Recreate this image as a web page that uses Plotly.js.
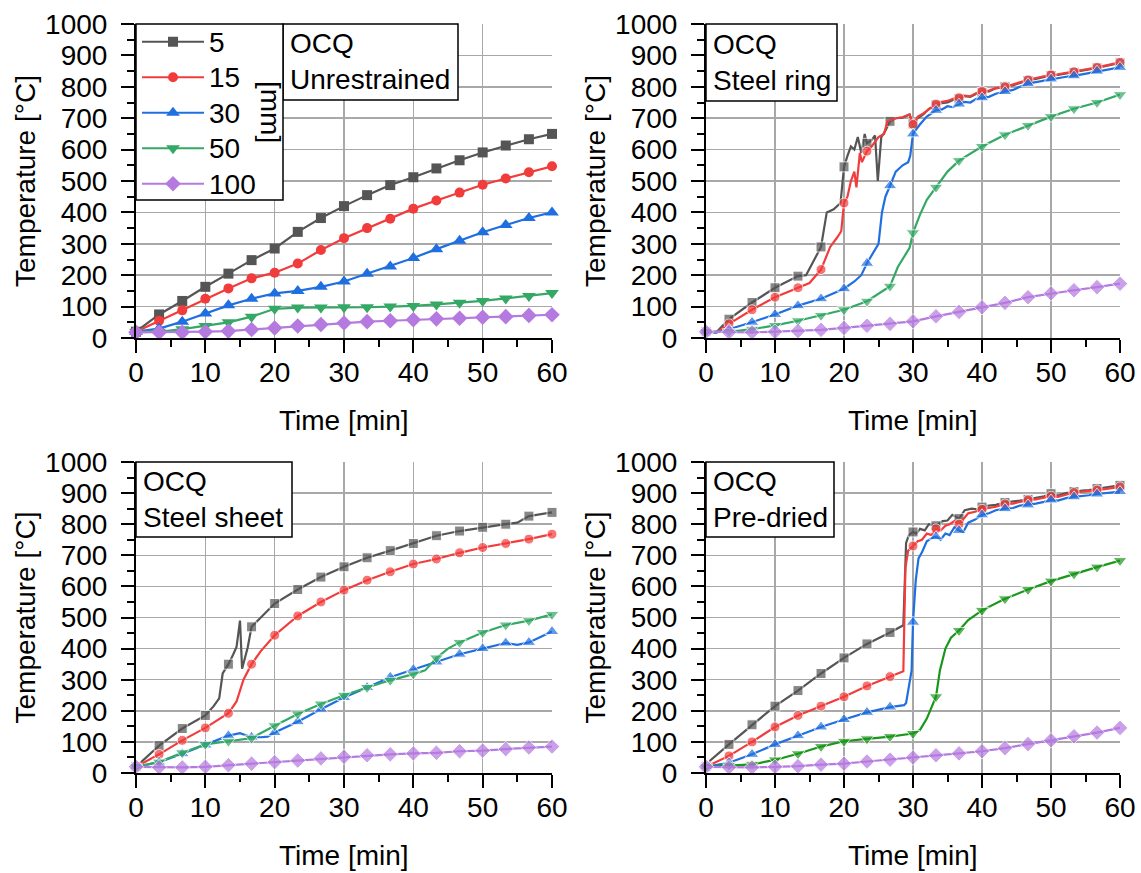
<!DOCTYPE html>
<html><head><meta charset="utf-8">
<script src="https://cdn.plot.ly/plotly-3.0.1.min.js"></script>
<style>html,body{margin:0;padding:0;background:#fff}#chart{width:1141px;height:873px}</style>
</head><body><div id="chart"></div>
<script>
// ---------- DATA ----------
const seriesNames = ['5', '15', '30', '50', '100'];
const unitLabel = '[mm]';
const panelNotes = ['OCQ<br>Unrestrained', 'OCQ<br>Steel ring', 'OCQ<br>Steel sheet', 'OCQ<br>Pre-dried'];
const xTitle = 'Time [min]';
const yTitle = 'Temperature [°C]';

// marker times (min)
const tMark = [0,3.33,6.67,10,13.33,16.67,20,23.33,26.67,30,33.33,36.67,40,43.33,46.67,50,53.33,56.67,60];

// Panel 1: Unrestrained
const unr5   = [20,75,118,163,205,248,285,338,382,420,455,487,512,540,566,591,613,633,650];
const unr15  = [20,55,88,125,158,190,208,237,280,318,350,380,412,438,463,488,508,528,547];
const unr30  = [20,30,52,78,104,125,142,150,163,180,205,228,255,283,310,337,360,382,400];
const unr50  = [20,20,28,38,50,68,93,97,97,98,98,100,102,107,112,118,126,134,143];
const unr100 = [18,18,18,20,22,27,32,38,43,48,52,55,58,61,63,66,68,72,74];

// Panel 2: Steel ring
const ring5t = [0,1.5,3.33,6.67,10,13.33,14.5,16.67,17.5,18.5,19.5,20,20.5,21,21.5,22,22.5,23,23.33,24,24.5,24.9,25.4,26,26.67,27.5,28.5,29.5,30,30.7,31.5,32.3,33.33,34.2,35,35.8,36.67,37.5,38.3,39.2,40,41,42,43.33,44.5,45.5,46.67,47.8,49,50,51,52.2,53.33,54.5,55.5,56.67,57.8,59,60];
const ring5v = [20,18,60,113,160,197,200,290,400,410,430,545,580,610,600,640,590,650,620,630,645,500,640,660,690,700,702,712,682,700,712,730,742,748,750,758,762,770,768,778,782,785,795,800,805,812,820,825,832,836,838,842,846,850,855,860,865,870,876];
const ring15t = [0,1.5,3.33,6.67,10,13.33,15,16.67,18,19,19.6,20,20.5,21,21.5,21.8,22.3,22.6,23.33,24,25,25.8,26.3,27.5,28.5,29.5,30,30.7,31.5,32.3,33.33,34.2,35,35.8,36.67,37.5,38.3,39.2,40,41,42,43.33,44.5,45.5,46.67,47.8,49,50,51,52.2,53.33,54.5,55.5,56.67,57.8,59,60];
const ring15v = [20,18,45,90,130,160,175,218,290,320,340,430,450,500,530,480,590,560,595,610,640,650,690,700,703,712,680,705,715,728,745,752,755,762,765,772,770,780,786,788,796,800,808,815,822,828,834,838,840,844,848,853,857,862,867,872,878];
const ring30t = [0,1.5,3.33,6.67,10,13.33,16.67,20,21.5,22.5,23.33,24.5,25,25.5,26,26.67,27.5,28.5,29.3,29.6,30,30.5,31,32,33.33,34.2,35,35.8,36.67,37.5,38.3,39.2,40,41,42,43.33,44.5,45.5,46.67,47.8,49,50,51,52.2,53.33,54.5,55.5,56.67,57.8,59,60];
const ring30v = [20,18,28,50,75,103,125,157,180,200,238,280,300,400,450,485,530,550,560,580,650,665,680,705,725,728,738,735,745,752,750,762,765,768,778,785,790,800,810,815,820,825,828,832,835,840,845,850,855,860,862];
const ring50t = [0,3.33,6.67,10,13.33,16.67,20,23.33,26.67,27.8,29.5,30,31,32,33.33,35,36.67,40,43.33,46.67,50,53.33,56.67,60];
const ring50v = [20,20,28,40,55,72,90,117,165,226,287,335,392,440,480,530,565,610,647,677,705,730,750,775];
const ring100 = [20,18,18,20,22,26,32,39,45,53,69,83,98,112,130,142,152,162,173];

// Panel 3: Steel sheet
const sheet5t = [0,3.33,6.67,10,11.2,12,12.5,13.33,14,14.5,15,15.3,16.1,16.67,18,20,23.33,26.67,30,33.33,36.67,40,43.33,46.67,50,53.33,55,56.67,60];
const sheet5v = [20,88,143,185,215,240,320,350,380,405,490,335,403,470,500,545,590,630,663,692,715,738,763,778,790,800,805,826,838];
const sheet15t = [0,3.33,6.67,10,13.33,14.5,15.5,16.67,18,20,23.33,26.67,30,33.33,36.67,40,43.33,46.67,50,53.33,56.67,60];
const sheet15v = [20,60,105,145,192,230,300,350,392,443,505,550,588,620,647,672,688,708,725,738,752,768];
const sheet30t = [0,3.33,6.67,10,13.33,15,16.67,18,19,20,23.33,26.67,30,33.33,36.67,40,43.33,46.67,50,53.33,55,56.67,60];
const sheet30v = [20,35,62,90,120,128,115,115,117,130,165,205,243,275,308,333,357,382,400,418,412,420,455];
const sheet50t = [0,3.33,6.67,10,13.33,16.67,20,23.33,26.67,30,33.33,36.67,40,41.7,43.33,45,46.67,50,53.33,56.67,60];
const sheet50v = [20,35,65,92,102,112,152,190,222,250,275,298,318,330,370,400,420,452,476,490,510];
const sheet100 = [20,18,18,20,25,30,35,40,47,52,57,60,63,65,70,72,77,82,85];

// Panel 4: Pre-dried
const dry5t = [0,0.7,3.33,6.67,10,13.33,16.67,20,23.33,26.67,28.6,29.0,29.4,30,30.5,31,31.7,32.3,33.33,34.3,35,35.7,36.67,37.5,38.5,39.3,40,41,42,43.33,44.5,45.5,46.67,47.8,49,50,51,52.2,53.33,54.5,55.5,56.67,57.8,59,60];
const dry5v = [20,42,92,155,215,265,320,370,415,452,475,740,765,775,770,785,780,800,795,810,812,830,818,845,850,848,855,860,862,870,872,876,880,885,890,898,892,900,905,908,910,915,918,922,925];
const dry15t = [0,3.33,6.67,10,13.33,16.67,20,23.33,26.67,28.6,28.9,29.3,30,30.7,31.3,32,32.7,33.33,34,34.7,35.3,36,36.67,37.3,38,39,40,41,42,43.33,44.5,45.5,46.67,47.8,49,50,51,52.2,53.33,54.5,55.5,56.67,57.8,59,60];
const dry15v = [20,55,100,148,185,215,245,280,310,327,660,715,730,745,750,770,765,785,780,795,800,810,800,815,835,840,848,852,856,865,866,872,878,880,886,890,888,896,902,905,907,910,913,917,920];
const dry30t = [0,3.33,6.67,10,13.33,16.67,20,23.33,26.67,28.7,29.0,29.5,29.8,30,30.4,30.8,31.3,32,32.7,33.33,34,34.7,35.3,36,36.67,37.3,38,39,40,41,42,43.33,44.5,45.5,46.67,47.8,49,50,51,52.2,53.33,54.5,55.5,56.67,57.8,59,60];
const dry30v = [20,33,60,92,120,148,172,195,212,218,225,300,330,485,620,690,710,745,755,760,750,770,765,790,780,775,805,815,830,835,845,850,852,860,862,866,872,878,876,884,888,890,893,897,900,903,905];
const dry50t = [0,3.33,6.67,10,13.33,16.67,20,23.33,26.67,30,31,32,32.8,33.33,33.9,34.7,35.5,36.67,38,40,43.33,46.67,50,53.33,56.67,60];
const dry50v = [20,25,28,42,62,85,102,110,117,127,138,175,215,245,330,400,435,458,492,523,560,590,617,640,662,683];
const dry100 = [20,18,18,20,22,27,30,37,43,50,57,63,70,80,93,105,118,130,145];

// ---------- STYLE ----------
const W = 1141, H = 873;
const fx = v => v / W;
const fy = v => 1 - v / H;
const colors = ['#555555', '#f23c3c', '#1f6fe0', '#34a865', '#b57ae0'];
const greenDry = '#1a961a';
const symbols = ['square', 'circle', 'triangle-up', 'triangle-down', 'diamond'];
const msizes = [10, 10, 12, 12, 12];
const FONT = 'Liberation Sans, Arial, sans-serif';
const FS = 28;

const panels = [
  {x0:136, x1:552, y0:24, y1:338, box:[283,24,458,100]},
  {x0:706, x1:1120, y0:24, y1:338, box:[706,24,837,101]},
  {x0:136, x1:552, y0:462, y1:773, box:[136,462,292,537]},
  {x0:706, x1:1120, y0:462, y1:773, box:[706,462,834,537]}
];

const panelData = [
  [[tMark,unr5],[tMark,unr15],[tMark,unr30],[tMark,unr50],[tMark,unr100]],
  [[ring5t,ring5v],[ring15t,ring15v],[ring30t,ring30v],[ring50t,ring50v],[tMark,ring100]],
  [[sheet5t,sheet5v],[sheet15t,sheet15v],[sheet30t,sheet30v],[sheet50t,sheet50v],[tMark,sheet100]],
  [[dry5t,dry5v],[dry15t,dry15v],[dry30t,dry30v],[dry50t,dry50v],[tMark,dry100]]
];

const isMark = t => Math.abs(t * 0.3 - Math.round(t * 0.3)) < 0.005;

const traces = [];
panelData.forEach((ser, p) => {
  const sfx = p === 0 ? '' : String(p + 1);
  ser.forEach((d, k) => {
    const col = (p === 3 && k === 3) ? greenDry : colors[k];
    const sizes = d[0].map(t => isMark(t) ? msizes[k] : 0);
    traces.push({
      type: 'scatter', mode: 'lines+markers',
      x: d[0], y: d[1],
      xaxis: 'x' + sfx, yaxis: 'y' + sfx,
      name: '<span style="font-size:28px">' + seriesNames[k] + '</span>',
      showlegend: p === 0,
      cliponaxis: false,
      line: {color: col, width: 2.2},
      marker: {color: col, symbol: symbols[k], size: p === 0 ? msizes[k] : sizes}
    });
  });
});

const layout = {
  width: W, height: H,
  margin: {l:0, r:0, t:0, b:0},
  paper_bgcolor: '#fff', plot_bgcolor: '#fff',
  font: {family: FONT, size: FS, color: '#000'},
  showlegend: true,
  legend: {x: fx(137), y: fy(19), xanchor: 'left', yanchor: 'top',
           bgcolor: 'rgba(0,0,0,0)', borderwidth: 0, font: {size: 25, family: FONT},
           itemwidth: 62, tracegroupgap: 0},
  shapes: [], annotations: []
};

panels.forEach((p, i) => {
  const sfx = i === 0 ? '' : String(i + 1);
  const common = {
    ticks: 'outside', ticklen: 13, tickwidth: 2, tickcolor: '#000',
    showline: true, linecolor: '#000', linewidth: 2,
    showgrid: true, gridcolor: '#a8a8a8', gridwidth: 1.5, zeroline: false,
    tickfont: {size: FS, family: FONT, color: '#000'}, fixedrange: true
  };
  layout['xaxis' + sfx] = Object.assign({}, common, {
    domain: [fx(p.x0), fx(p.x1)], anchor: 'y' + sfx, range: [0, 60],
    tick0: 0, dtick: 10, ticklabelstandoff: -5,
    minor: {dtick: 5, ticks: 'outside', ticklen: 7, tickwidth: 2, tickcolor: '#000', showgrid: false}
  });
  layout['yaxis' + sfx] = Object.assign({}, common, {
    domain: [fy(p.y1), fy(p.y0)], anchor: 'x' + sfx, range: [0, 1000],
    tick0: 0, dtick: 100, ticklabelstandoff: 8,
    minor: {dtick: 50, ticks: 'outside', ticklen: 7, tickwidth: 2, tickcolor: '#000', showgrid: false}
  });
  // note box
  const b = p.box;
  layout.shapes.push({type:'rect', xref:'paper', yref:'paper', layer:'above',
    x0: fx(b[0]), x1: fx(b[2]), y0: fy(b[3]), y1: fy(b[1]),
    line: {color:'#000', width:1.5}, fillcolor:'#fff'});
  layout.annotations.push({xref:'paper', yref:'paper', x: fx(b[0] + 5), y: fy((b[1] + b[3]) / 2),
    xanchor:'left', yanchor:'middle', align:'left', showarrow:false,
    text: panelNotes[i], font:{size: FS, family: FONT, color:'#000'}});
  // axis titles
  const cx = (p.x0 + p.x1) / 2, cy = (p.y0 + p.y1) / 2;
  layout.annotations.push({xref:'paper', yref:'paper', x: fx(cx), y: fy(p.y1 + 82),
    xanchor:'center', yanchor:'middle', showarrow:false, text: xTitle,
    font:{size: FS, family: FONT, color:'#000'}});
  layout.annotations.push({xref:'paper', yref:'paper', x: fx(p.x0 - 111), y: fy(cy),
    xanchor:'center', yanchor:'middle', showarrow:false, textangle:-90, text: yTitle,
    font:{size: FS, family: FONT, color:'#000'}});
});

// legend box + unit label (panel 1)
layout.shapes.push({type:'rect', xref:'paper', yref:'paper', layer:'above',
  x0: fx(136), x1: fx(283), y0: fy(200), y1: fy(24),
  line: {color:'#000', width:1.5}, fillcolor:'#fff'});
layout.annotations.push({xref:'paper', yref:'paper', x: fx(270), y: fy(112),
  xanchor:'center', yanchor:'middle', showarrow:false, textangle:90, text: unitLabel,
  font:{size: FS, family: FONT, color:'#000'}});

Plotly.newPlot('chart', traces, layout, {displayModeBar:false, staticPlot:true});
</script>
</body></html>
